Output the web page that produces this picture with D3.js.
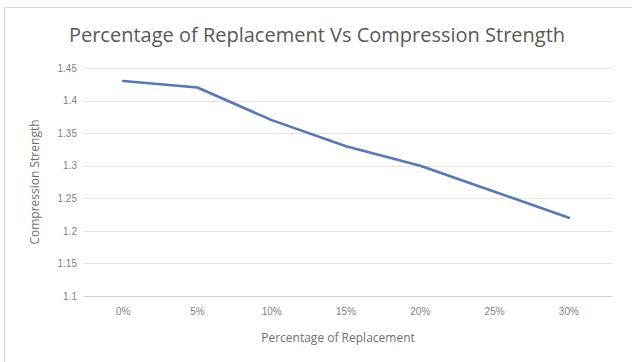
<!DOCTYPE html>
<html>
<head>
<meta charset="utf-8">
<script src="https://cdn.jsdelivr.net/npm/d3@7"></script>
<style>
  html, body { margin: 0; padding: 0; background: #fff; }
  svg { display: block; font-family: "Open Sans", "Liberation Sans", sans-serif; }
</style>
</head>
<body>
<svg id="chart" width="632" height="362"></svg>
<script>
// Replacement levels and measured compression strength
const categories = ["0%", "5%", "10%", "15%", "20%", "25%", "30%"];
const strength = [1.43, 1.42, 1.37, 1.33, 1.30, 1.26, 1.22];
const yTicks = [1.1, 1.15, 1.2, 1.25, 1.3, 1.35, 1.4, 1.45];

const svg = d3.select("#chart");
const W = 632, H = 362;

// Outer chart frame
svg.append("rect")
  .attr("x", 4.5).attr("y", 7.5)
  .attr("width", W + 10).attr("height", H + 10)
  .attr("fill", "#fff")
  .attr("stroke", "#d9d9d9");

const plot = { left: 86, right: 606, top: 68, bottom: 296 };

const x = d3.scaleBand()
  .domain(categories)
  .range([plot.left, plot.right]);

const y = d3.scaleLinear()
  .domain([1.1, 1.45])
  .range([plot.bottom, plot.top]);

// Horizontal gridlines
svg.append("g")
  .selectAll("line")
  .data(yTicks)
  .join("line")
  .attr("x1", plot.left - 2).attr("x2", plot.right + 6)
  .attr("y1", d => Math.round(y(d)) + 0.5)
  .attr("y2", d => Math.round(y(d)) + 0.5)
  .attr("stroke", d => d === 1.1 ? "#d0d0d0" : "#e3e3e3")
  .attr("stroke-width", 1);

// Y tick labels
const yAxis = d3.axisLeft(y).tickValues(yTicks).tickSize(0).tickPadding(9)
  .tickFormat(d => String(+d.toFixed(2)));
const gy = svg.append("g").attr("transform", `translate(${plot.left},0)`).call(yAxis);
gy.select(".domain").remove();
gy.selectAll("text").attr("fill", "#7f7f7f").style("font-size", "10px");

// X tick labels
const xAxis = d3.axisBottom(x).tickSize(0).tickPadding(12);
const gx = svg.append("g").attr("transform", `translate(0,${plot.bottom})`).call(xAxis);
gx.select(".domain").remove();
gx.selectAll("text").attr("fill", "#7f7f7f").style("font-size", "10px");

// Strength line
const line = d3.line()
  .x((d, i) => x(categories[i]) + x.bandwidth() / 2)
  .y(d => y(d));

svg.append("path")
  .datum(strength)
  .attr("d", line)
  .attr("fill", "none")
  .attr("stroke", "#5479b6")
  .attr("stroke-width", 2.6)
  .attr("stroke-linejoin", "round")
  .attr("stroke-linecap", "round");

// Title
svg.append("text")
  .attr("x", 317).attr("y", 42)
  .attr("text-anchor", "middle")
  .attr("fill", "#595959")
  .style("font-size", "20px")
  .text("Percentage of Replacement Vs Compression Strength");

// Axis titles
svg.append("text")
  .attr("x", 338).attr("y", 342)
  .attr("text-anchor", "middle")
  .attr("fill", "#6f6f6f")
  .style("font-size", "12px")
  .text("Percentage of  Replacement");

svg.append("text")
  .attr("transform", "translate(39,182) rotate(-90)")
  .attr("text-anchor", "middle")
  .attr("fill", "#6f6f6f")
  .style("font-size", "12px")
  .text("Compression Strength");
</script>
</body>
</html>
